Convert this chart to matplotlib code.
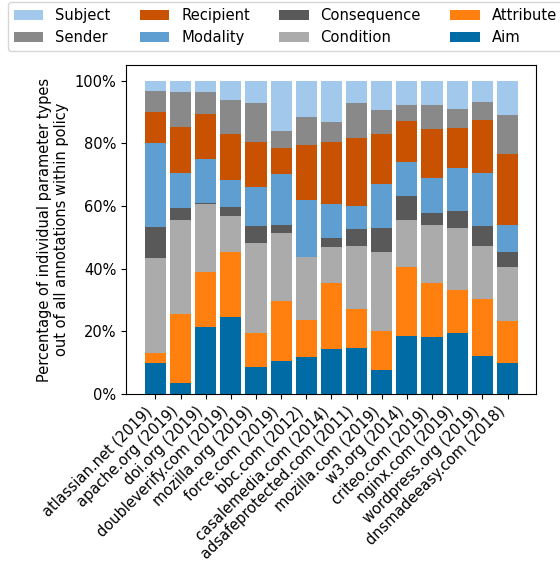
import matplotlib
matplotlib.use("Agg")
import matplotlib.pyplot as plt
import numpy as np
from matplotlib.ticker import PercentFormatter

sites = ["atlassian.net (2019)", "apache.org (2019)", "doi.org (2019)",
         "doubleverify.com (2019)", "mozilla.org (2019)", "force.com (2019)",
         "bbc.com (2012)", "casalemedia.com (2014)", "adsafeprotected.com (2011)",
         "mozilla.com (2019)", "w3.org (2014)", "criteo.com (2019)",
         "nginx.com (2019)", "wordpress.org (2019)", "dnsmadeeasy.com (2018)"]

aim = [9.8, 3.4, 21.3, 24.5, 8.8, 10.7, 11.7, 14.3, 14.6, 7.6, 18.4, 18.1, 19.4, 12.3, 9.8]
attribute = [3.2, 22.3, 17.8, 20.9, 10.6, 18.9, 11.9, 21.0, 12.4, 12.4, 22.3, 17.2, 13.7, 18.2, 13.4]
condition = [30.3, 29.7, 21.4, 11.3, 28.7, 21.7, 20.3, 11.7, 20.1, 25.2, 14.7, 18.5, 19.8, 16.6, 17.5]
consequence = [9.9, 3.9, 0.4, 2.9, 5.4, 2.8, 0.0, 2.7, 5.5, 7.7, 7.7, 3.9, 5.4, 6.4, 4.8]
modality = [26.8, 11.1, 14.0, 8.6, 12.5, 16.0, 17.9, 10.8, 7.3, 14.0, 10.8, 11.4, 13.7, 17.2, 8.6]
recipient = [9.9, 14.7, 14.4, 14.7, 14.3, 8.3, 17.6, 19.8, 21.7, 16.0, 13.1, 15.4, 12.8, 16.6, 22.4]
sender = [6.7, 11.2, 7.0, 11.1, 12.5, 5.4, 8.9, 6.4, 11.2, 7.6, 5.4, 7.6, 6.1, 5.8, 12.4]
subject = [3.4, 3.7, 3.7, 6.0, 7.2, 16.2, 11.7, 13.3, 7.2, 9.5, 7.6, 7.9, 9.1, 6.9, 11.1]

series = [("Aim", aim, "#006BA4"), ("Attribute", attribute, "#FF800E"),
          ("Condition", condition, "#ABABAB"), ("Consequence", consequence, "#595959"),
          ("Modality", modality, "#5F9ED1"), ("Recipient", recipient, "#C85200"),
          ("Sender", sender, "#898989"), ("Subject", subject, "#A2C8EC")]

fs = 10.5
fig = plt.figure(figsize=(5.6, 5.63), dpi=100)
ax = fig.add_axes([0.225, 0.300, 0.732, 0.5845])

x = np.arange(len(sites))
bottom = np.zeros(len(sites))
handles = {}
for name, vals, col in series:
    v = np.array(vals)
    b = ax.bar(x, v, 0.84, bottom=bottom, color=col, label=name)
    handles[name] = b
    bottom += v

ax.set_xlim(-1.17, 15.13)
ax.set_ylim(0, 105)
ax.yaxis.set_major_formatter(PercentFormatter(decimals=0))
ax.set_yticks([0, 20, 40, 60, 80, 100])
ax.set_xticks(x)
ax.set_xticklabels(sites, rotation=45, ha="right", fontsize=fs)
ax.tick_params(axis="y", labelsize=fs)
ax.set_ylabel("Percentage of individual parameter types\nout of all annotations within policy", fontsize=fs)

order = ["Subject", "Sender", "Recipient", "Modality", "Consequence", "Condition", "Attribute", "Aim"]
fig.legend([handles[n] for n in order], order, loc="upper left",
           bbox_to_anchor=(8 / 560, 561 / 563), borderaxespad=0,
           ncol=4, fontsize=10.6, frameon=True)

fig.savefig("out.png", dpi=100)
